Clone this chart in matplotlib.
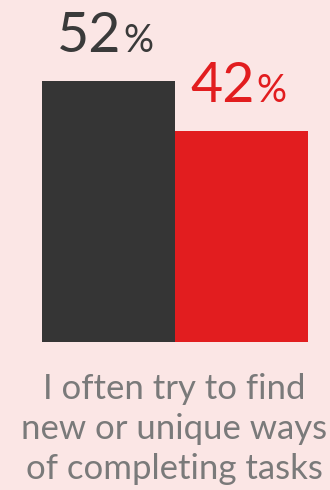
import matplotlib
matplotlib.use("Agg")
import matplotlib.pyplot as plt

# survey answer shares, in percent
groups = ["Group A", "Group B"]
shares = [52, 42]
bar_colors = ["#353535", "#E21D1F"]
label_colors = ["#3A3A3A", "#E21D1F"]
caption = "I often try to find\nnew or unique ways\nof completing tasks"

bg = "#FBE6E5"
plt.rcParams["font.family"] = ["Lato", "DejaVu Sans"]

fig = plt.figure(figsize=(3.3, 4.9), dpi=100, facecolor=bg)
ax = fig.add_axes([42 / 330, 148 / 490, 266 / 330, 301 / 490])
ax.set_facecolor(bg)

x = range(len(shares))
ax.bar(x, shares, width=1.0, color=bar_colors, linewidth=0)
ax.set_xlim(-0.5, len(shares) - 0.5)
ax.set_ylim(0, 60)
ax.axis("off")

# value labels: big digits with a smaller percent sign
for i, v in enumerate(shares):
    ax.annotate(str(v), (i, v), xytext=(13, 29), textcoords="offset pixels",
                ha="right", va="baseline", fontsize=40, color=label_colors[i])
    ax.annotate("%", (i, v), xytext=(15, 29), textcoords="offset pixels",
                ha="left", va="baseline", fontsize=27, color=label_colors[i])

# caption, anchored on the baseline of its last line
fig.text(174 / 330, 1 - 479 / 490, caption, ha="center", va="baseline",
         fontsize=25, color="#7A7A7A", linespacing=1.3, multialignment="center")

fig.savefig("out.png", dpi=100, facecolor=bg)
